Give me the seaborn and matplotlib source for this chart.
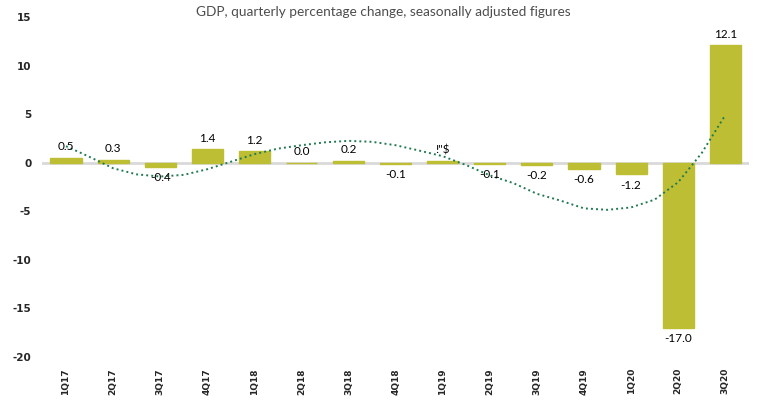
import matplotlib
matplotlib.use("Agg")
import matplotlib.pyplot as plt
import pandas as pd
import seaborn as sns

quarters = ['1Q17', '2Q17', '3Q17', '4Q17', '1Q18', '2Q18', '3Q18', '4Q18',
            '1Q19', '2Q19', '3Q19', '4Q19', '1Q20', '2Q20', '3Q20']
gdp = [0.5, 0.3, -0.4, 1.4, 1.2, 0.0, 0.2, -0.1,
       0.2, -0.1, -0.2, -0.6, -1.2, -17.0, 12.1]
bar_labels = ['0.5', '0.3', '-0.4', '1.4', '1.2', '0.0', '0.2', '-0.1',
              '!"$', '-0.1', '-0.2', '-0.6', '-1.2', '-17.0', '12.1']

# trend line, every half quarter
trend_step = [0, 0.5, 1, 1.5, 2, 2.5, 3, 3.5, 4, 4.5, 5, 5.5, 6, 6.5, 7,
              7.5, 8, 8.5, 9, 9.5, 10, 10.5, 11, 11.5, 12, 12.5, 13, 13.5, 14]
trend_val = [1.7, 0.6, -0.57, -1.2, -1.42, -1.25, -0.67, 0.1, 0.88, 1.45,
             1.8, 2.1, 2.25, 2.15, 1.8, 1.25, 0.67, -0.25, -1.3, -2.1,
             -3.2, -3.9, -4.7, -4.85, -4.6, -3.8, -2.0, 1.0, 4.9]

bar_color = '#bdbe33'
trend_color = '#237a52'

sns.set_theme(style='white')
plt.rcParams['font.family'] = ['Lato', 'DejaVu Sans']
plt.rcParams['axes.unicode_minus'] = False

df = pd.DataFrame({'quarter': quarters, 'gdp': gdp})

fig = plt.figure(figsize=(7.72, 4.0), dpi=100)
ax = fig.add_axes([0.055, 0.1075, 0.915, 0.85])

ax.axhline(0, color='#d9d9d9', linewidth=2, zorder=0)
sns.barplot(data=df, x='quarter', y='gdp', color=bar_color, width=0.66,
            edgecolor=bar_color, linewidth=1, saturation=1, ax=ax, zorder=2)

ax.plot(trend_step, trend_val, linestyle=(0, (1, 1.6)), color=trend_color,
        linewidth=1.4, zorder=3)

for i, (v, lab) in enumerate(zip(gdp, bar_labels)):
    if v >= 0:
        ax.annotate(lab, (i, v), xytext=(0, 4), textcoords='offset points',
                    ha='center', va='bottom', fontsize=8.5, color='black', zorder=4)
    else:
        ax.annotate(lab, (i, v), xytext=(0, -4), textcoords='offset points',
                    ha='center', va='top', fontsize=8.5, color='black', zorder=4)

ax.set_xlim(-0.5, 14.5)
ax.set_ylim(-20, 15)
ax.set_yticks([-20, -15, -10, -5, 0, 5, 10, 15])
ax.set_xlabel('')
ax.set_ylabel('')
for s in ax.spines.values():
    s.set_visible(False)
ax.tick_params(axis='y', length=0, pad=8)
ax.tick_params(axis='x', length=0, pad=8, rotation=90)
for t in ax.get_yticklabels():
    t.set_fontfamily('DejaVu Sans')
    t.set_fontweight('bold')
    t.set_fontsize(7.5)
for t in ax.get_xticklabels():
    t.set_fontfamily('DejaVu Sans')
    t.set_fontweight('bold')
    t.set_fontsize(6.5)
    t.set_va('top')

fig.text(0.497, 0.985, 'GDP, quarterly percentage change, seasonally adjusted figures',
         ha='center', va='top', fontsize=9.8, color='#4d4d4d')

fig.savefig('out.png', dpi=100)
